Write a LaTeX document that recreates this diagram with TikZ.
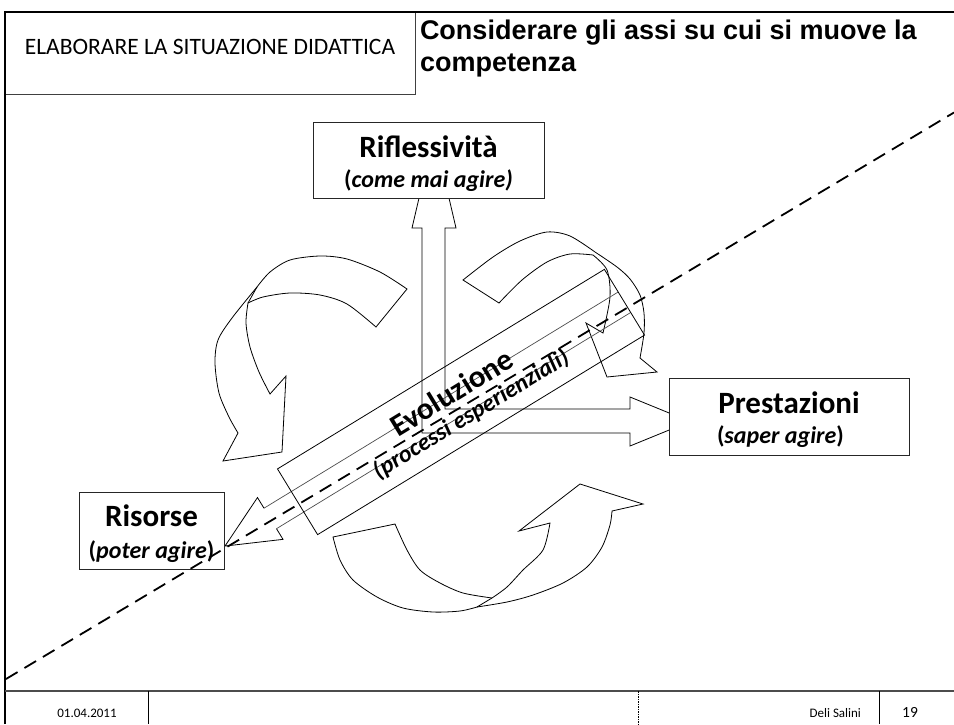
\documentclass[tikz,border=0pt]{standalone}
\usepackage{fontspec}
\setmainfont{Carlito}
\newfontfamily\arialf{Liberation Sans}
\newcommand\fbigb{\fontsize{31}{36}\selectfont\bfseries}
\newcommand\fsubb{\fontsize{24}{28}\selectfont\bfseries}
\newcommand\felab{\fontsize{23.5}{28}\selectfont}
\newcommand\ftitle{\arialf\fontsize{27}{31}\selectfont\bfseries}
\newcommand\ffoot{\fontsize{13}{15}\selectfont}
\newcommand\fpgnum{\fontsize{15.5}{18}\selectfont}
\tikzset{
  frameline/.style={line width=2.4pt, black},
  footline/.style={line width=1.3pt, black!70},
  boxnode/.style={draw=black!85, line width=1pt, fill=white, inner sep=0pt},
  blockarr/.style={draw=black, line width=0.8pt, line join=miter},
  shaftarr/.style={draw=black!70, line width=0.7pt, line join=miter},
  dashline/.style={line width=1.8pt, dash pattern=on 13.5pt off 8pt},
  txt/.style={inner sep=0pt, outer sep=0pt},
}
\begin{document}
\begin{tikzpicture}[x=1pt,y=-1pt]
\useasboundingbox (0,0) rectangle (954,724);

% ---------- frame and header ----------
\coordinate (fl) at (5,724);
\coordinate (ftl) at (5,12);
\coordinate (ftr) at (954,12);
\node (elab) [draw=black!75, line width=0.8pt, anchor=north west, inner sep=0pt,
  minimum width=410, minimum height=82] at (5,12) {};
\draw[frameline] (fl) -- (ftl) -- (ftr);
\node (elabT) [txt, anchor=base, font=\felab] at (210,54) {ELABORARE LA SITUAZIONE DIDATTICA};
\node (tit1) [txt, anchor=base west, font=\ftitle] at (420,39) {Considerare gli assi su cui si muove la};
\node (tit2) [txt, anchor=base west, font=\ftitle] at (420,71) {competenza};

% ---------- footer ----------
\coordinate (fbl) at (5,691);
\coordinate (fbr) at (954,691);
\draw[footline] (fbl) -- (fbr);
\coordinate (s1a) at (148,691); \coordinate (s1b) at (148,724);
\coordinate (s2a) at (638,691); \coordinate (s2b) at (638,724);
\coordinate (s3a) at (879,691); \coordinate (s3b) at (879,724);
\draw[line width=0.8pt] (s1a) -- (s1b);
\draw[line width=0.6pt, dash pattern=on 1.5pt off 1pt] (s2a) -- (s2b);
\draw[line width=0.8pt] (s3a) -- (s3b);
\node (date) [txt, anchor=base, font=\ffoot] at (87,717) {01.04.2011};
\node (auth) [txt, anchor=base east, font=\ffoot] at (861,717) {Deli Salini};
\node (pgn) [txt, anchor=base, font=\fpgnum] at (910,717) {19};

% ---------- L-shaped block arrow (up and right) ----------
\draw[blockarr] (422,433) -- (422,228) -- (412,228) -- (434,134) -- (456,228) -- (445,228)
  -- (445,409) -- (630,409) -- (630,397) -- (690,421.5) -- (630,446) -- (630,433) -- cycle;

% ---------- curved arrow top-left ----------
\draw[blockarr]
  plot[smooth] coordinates {(407,289) (380,272) (347,259) (320,256) (290,260) (270,272) (257,287)}
  -- plot[smooth] coordinates {(257,287) (232,318) (218,340) (215,363) (219,393) (229,417) (238,433)}
  -- (223,461) -- (282,452) -- (286,376) -- (270,394)
  -- plot[smooth] coordinates {(270,394) (259,372) (250,347) (246,323) (248,303)}
  -- plot[smooth] coordinates {(248,303) (263,297) (290,293) (320,295) (347,304) (376,327)}
  -- cycle;
\draw[blockarr] (257,287) -- (248,303);

% ---------- curved arrow top-right ----------
\draw[blockarr]
  plot[smooth] coordinates {(463,280) (493,257) (520,241) (547,232) (570,236) (595,252)}
  -- plot[smooth] coordinates {(595,252) (617,267) (630,279) (640,295) (644,313) (644,333) (640,358)}
  -- (657,372) -- (607,377) -- (586,323) -- (603,333)
  -- plot[smooth] coordinates {(603,333) (610,297) (607,270) (593,255)}
  -- plot[smooth] coordinates {(593,255) (570,254) (547,262) (522,280) (499,303)}
  -- cycle;

% ---------- curved arrow bottom ----------
\draw[blockarr]
  plot[smooth] coordinates {(333,537) (340,560) (353,580) (377,597) (403,608) (433,612) (460,611) (477,607)}
  -- plot[smooth] coordinates {(477,607) (507,602) (533,595) (563,583) (587,567) (602,547) (610,525) (612,511)}
  -- (643,504) -- (580,484) -- (519,531) -- (550,523)
  -- plot[smooth] coordinates {(550,523) (543,550) (523,570) (507,587) (492,598)}
  -- plot[smooth] coordinates {(492,598) (463,593) (440,583) (420,570) (407,550) (395,524)}
  -- cycle;
\draw[blockarr] (477,607) -- (492,598);

% ---------- Evoluzione: rotated box and arrow to Risorse ----------
\begin{scope}[shift={(461,402)}, rotate=31.4]
  \draw[shaftarr] (-223.5,-12) -- (191.5,-12) (191.5,12) -- (-223.5,12);
  \draw[blockarr] (-223.5,-12) -- (-223.5,-24.5) -- (-276.5,0) -- (-223.5,24.5) -- (-223.5,12);
  \draw[blockarr] (-191.5,-38.5) rectangle (191.5,38.5);
  \node (evo) [txt, anchor=base, rotate=31.4, font=\fbigb] at (-3,-2.5) {Evoluzione};
  \node (evs) [txt, anchor=base, rotate=31.4, font=\fsubb\itshape] at (2,23) {(processi esperienziali)};
\end{scope}

% ---------- boxes ----------
\node (rif) [boxnode, minimum width=231, minimum height=76] at (428.5,160) {};
\node (rifT) [txt, anchor=base, font=\fbigb] at (428.5,157) {Riflessività};
\node (rifS) [txt, anchor=base, font=\fsubb] at (428.5,187) {(\textit{come mai agire)}};

\node (pre) [boxnode, minimum width=240, minimum height=77] at (789,416.5) {};
\node (preT) [txt, anchor=base, font=\fbigb] at (789,413) {Prestazioni};
\node (preS) [txt, anchor=base west, font=\fsubb] at (717,443) {(\textit{saper agire})};

\node (ris) [boxnode, minimum width=145, minimum height=77] at (151.5,530.5) {};
\node (risT) [txt, anchor=base, font=\fbigb] at (151.5,526) {Risorse};
\node (risS) [txt, anchor=base, font=\fsubb] at (151.5,558) {(\textit{poter agire})};

% ---------- dashed diagonal ----------
\coordinate (dl) at (6,679);
\coordinate (dr) at (954,112.5);
\draw[dashline] (dl) -- (dr);
\end{tikzpicture}
\end{document}
